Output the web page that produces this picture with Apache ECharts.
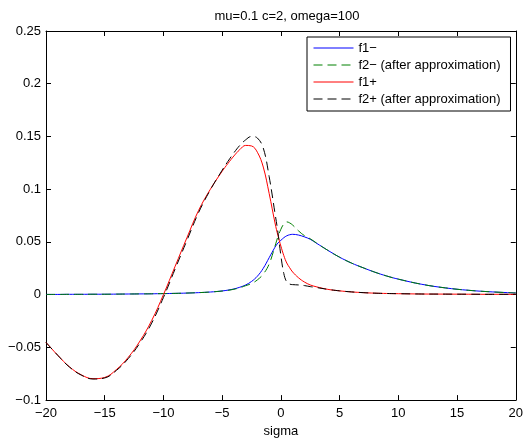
<!DOCTYPE html>
<html>
<head>
<meta charset="utf-8">
<title>mu=0.1 c=2, omega=100</title>
<script src="https://cdn.jsdelivr.net/npm/echarts@6/dist/echarts.min.js"></script>
<style>
  html, body { margin: 0; padding: 0; background: #fff; }
  #chart { width: 526px; height: 443px; }
</style>
</head>
<body>
<div id="chart"></div>
<script>
// sigma sample points shared by all curves
const sigma = [-20, -19, -18, -17, -16, -15, -14, -13, -12, -11, -10, -9, -8, -7, -6, -5,
  -4.5, -4, -3.5, -3, -2.5, -2, -1.5, -1, -0.5, -0.25, 0, 0.25, 0.5, 0.75, 1,
  1.5, 2, 2.5, 3, 4, 5, 6, 7, 8, 9, 10, 12, 14, 16, 18, 20]

const f1Minus = [0.0002, 0.0002, 0.0003, 0.0003, 0.0004, 0.0004, 0.0005, 0.0006, 0.0007, 0.0008, 0.0010, 0.0012, 0.0015, 0.0019, 0.0025, 0.0035,
  0.0043, 0.0054, 0.0070, 0.0092, 0.0125, 0.0175, 0.0250, 0.0350, 0.0450, 0.0490, 0.0515, 0.0540, 0.0558, 0.0568, 0.0572,
  0.0565, 0.0548, 0.0525, 0.0490, 0.0420, 0.0355, 0.0300, 0.0255, 0.0213, 0.0177, 0.0147, 0.0098, 0.0064, 0.0041, 0.0026, 0.0016]

const f2Minus = [0.0002, 0.0002, 0.0003, 0.0003, 0.0004, 0.0004, 0.0005, 0.0006, 0.0007, 0.0008, 0.0010, 0.0012, 0.0015, 0.0019, 0.0025, 0.0034,
  0.0041, 0.0051, 0.0065, 0.0085, 0.0105, 0.0140, 0.0195, 0.0290, 0.0460, 0.0550, 0.0620, 0.0670, 0.0690, 0.0680, 0.0660,
  0.0605, 0.0560, 0.0530, 0.0492, 0.0420, 0.0355, 0.0300, 0.0255, 0.0213, 0.0177, 0.0147, 0.0098, 0.0064, 0.0041, 0.0026, 0.0016]

const f1Plus = [-0.0453, -0.0575, -0.0685, -0.0760, -0.0797, -0.0785, -0.0710, -0.0595, -0.0440, -0.0245, 0.0000, 0.0270, 0.0540, 0.0800, 0.1000, 0.1170,
  0.1245, 0.1315, 0.1375, 0.1415, 0.1410, 0.1350, 0.1210, 0.0960, 0.0680, 0.0560, 0.0460, 0.0370, 0.0300, 0.0255, 0.0215,
  0.0160, 0.0120, 0.0092, 0.0075, 0.0050, 0.0036, 0.0026, 0.0019, 0.0014, 0.0011, 0.0009, 0.0006, 0.0005, 0.0004, 0.0003, 0.0003]

const f2Plus = [-0.0453, -0.0575, -0.0687, -0.0763, -0.0800, -0.0790, -0.0718, -0.0607, -0.0458, -0.0270, -0.0027, 0.0245, 0.0514, 0.0780, 0.0995, 0.1180,
  0.1265, 0.1345, 0.1415, 0.1468, 0.1500, 0.1485, 0.1390, 0.1120, 0.0770, 0.0590, 0.0370, 0.0200, 0.0120, 0.0100, 0.0095,
  0.0092, 0.0086, 0.0076, 0.0068, 0.0050, 0.0036, 0.0026, 0.0019, 0.0014, 0.0011, 0.0009, 0.0006, 0.0005, 0.0004, 0.0003, 0.0003]

const xTicks = { min: -20, max: 20, interval: 5 }
const yTicks = { min: -0.1, max: 0.25, interval: 0.05 }

const font = 'Liberation Sans, Arial, Helvetica, sans-serif'
const minus = (v) => String(parseFloat(Number(v).toFixed(3))).replace('-', '\u2212')

const pairs = (ys) => sigma.map((x, i) => [x, ys[i]])

const lineSeries = (name, ys, color, dashed) => ({
  name,
  type: 'line',
  data: pairs(ys),
  symbol: 'none',
  smooth: 0.4,
  lineStyle: { color, width: 1, type: dashed ? [9, 5] : 'solid' },
  itemStyle: { color },
})

const boxAxis = (extra) => Object.assign({
  type: 'value',
  axisLine: { show: true, onZero: false, lineStyle: { color: '#000', width: 1 } },
  axisTick: { show: true, inside: true, length: 5, lineStyle: { color: '#000' } },
  splitLine: { show: false },
}, extra)

const chart = echarts.init(document.getElementById('chart'))

chart.setOption({
  animation: false,
  backgroundColor: '#fff',
  textStyle: { fontFamily: font },
  title: {
    text: 'mu=0.1 c=2, omega=100',
    left: 282,
    textAlign: 'center',
    top: 5,
    textStyle: { fontSize: 13, fontWeight: 'normal', color: '#000', fontFamily: font },
  },
  grid: { left: 46, right: 7.5, top: 31, bottom: 40 },
  legend: {
    orient: 'vertical',
    left: 307,
    top: 37,
    padding: [4, 10, 5, 6],
    itemGap: 3,
    itemWidth: 40,
    itemHeight: 14,
    // hide the marker dot, keep only the line sample
    itemStyle: { color: 'rgba(0,0,0,0)', borderColor: 'rgba(0,0,0,0)', borderWidth: 0 },
    lineStyle: { width: 1 },
    borderColor: '#000',
    borderWidth: 1,
    backgroundColor: '#fff',
    textStyle: { fontSize: 13, color: '#000', fontFamily: font, lineHeight: 14 },
  },
  xAxis: [
    boxAxis(Object.assign({}, xTicks, {
      position: 'bottom',
      name: 'sigma',
      nameLocation: 'middle',
      nameGap: 22,
      nameTextStyle: { fontSize: 13, color: '#000', fontFamily: font },
      axisLabel: { margin: 7, fontSize: 13, color: '#000', fontFamily: font, formatter: minus },
    })),
    boxAxis(Object.assign({}, xTicks, { position: 'top', axisLabel: { show: false } })),
  ],
  yAxis: [
    boxAxis(Object.assign({}, yTicks, {
      position: 'left',
      axisLabel: { margin: 5, fontSize: 13, color: '#000', fontFamily: font, formatter: minus },
    })),
    boxAxis(Object.assign({}, yTicks, { position: 'right', axisLabel: { show: false } })),
  ],
  series: [
    lineSeries('f1\u2212', f1Minus, '#0000ff', false),
    lineSeries('f2\u2212 (after approximation)', f2Minus, '#008000', true),
    lineSeries('f1+', f1Plus, '#ff0000', false),
    lineSeries('f2+ (after approximation)', f2Plus, '#000000', true),
  ],
})
</script>
</body>
</html>
